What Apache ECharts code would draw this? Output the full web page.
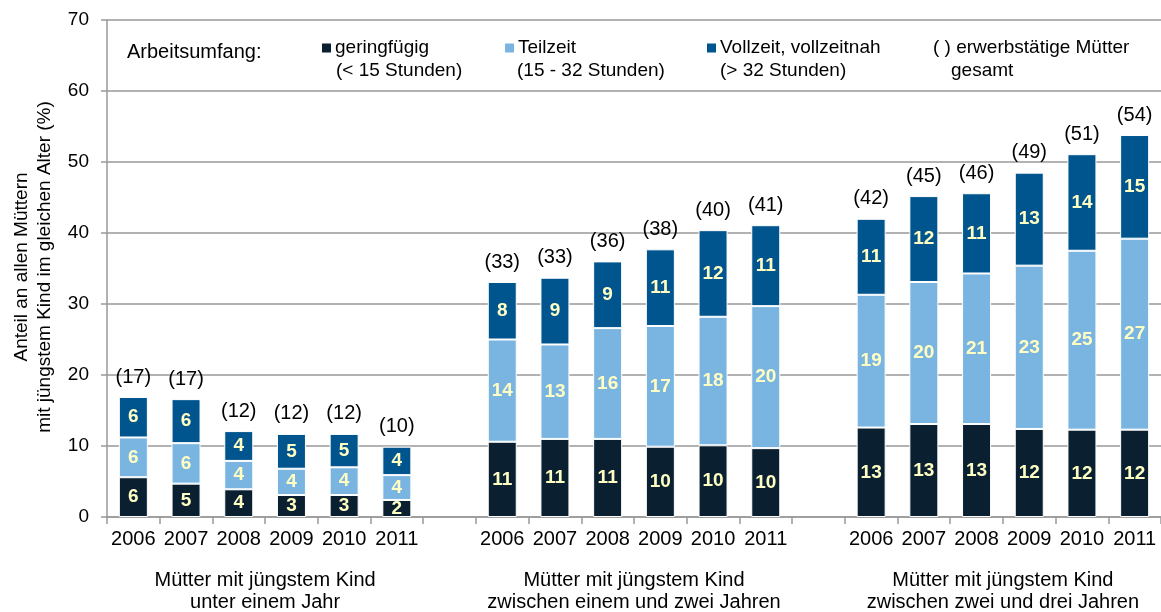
<!DOCTYPE html>
<html lang="de">
<head>
  <meta charset="UTF-8">
  <title>Arbeitsumfang erwerbstätiger Mütter</title>
  <script src="https://cdn.jsdelivr.net/npm/echarts@6.0.0/dist/echarts.min.js"></script>
  <style>
    *{ margin:0; padding:0; }
    body{ width:1161px; height:612px; background:#fff; }
    .container{ width:1161px; height:612px; }
  </style>
</head>
<body>
  <div class="container"></div>

  <script type="text/javascript">
    // Jahre je Gruppe
    var years = ['2006', '2007', '2008', '2009', '2010', '2011']

    // jüngstes Kind unter einem Jahr
    var geringfuegig1 = [5.6, 4.7, 3.9, 3.1, 3.1, 2.4]
    var teilzeit1 = [5.6, 5.7, 4.0, 3.7, 3.9, 3.5]
    var vollzeit1 = [5.7, 6.2, 4.2, 4.9, 4.7, 4.0]
    var gesamt1 = [17, 17, 12, 12, 12, 10]

    // jüngstes Kind zwischen einem und zwei Jahren
    var geringfuegig2 = [10.6, 11.0, 11.0, 9.9, 10.1, 9.7]
    var teilzeit2 = [14.4, 13.3, 15.6, 17.0, 18.1, 20.0]
    var vollzeit2 = [8.1, 9.4, 9.4, 10.8, 12.2, 11.4]
    var gesamt2 = [33, 33, 36, 38, 40, 41]

    // jüngstes Kind zwischen zwei und drei Jahren
    var geringfuegig3 = [12.6, 13.1, 13.1, 12.4, 12.3, 12.3]
    var teilzeit3 = [18.7, 20.0, 21.2, 23.0, 25.2, 26.9]
    var vollzeit3 = [10.7, 12.1, 11.3, 13.1, 13.6, 14.6]
    var gesamt3 = [42, 45, 46, 49, 51, 54]

    var groupNames = [
      'Mütter mit jüngstem Kind\nunter einem Jahr',
      'Mütter mit jüngstem Kind\nzwischen einem und zwei Jahren',
      'Mütter mit jüngstem Kind\nzwischen zwei und drei Jahren'
    ]

    // drei Gruppen mit je einer leeren Kategorie dazwischen
    function join(a, b, c, gap) {
      return a.concat([gap], b, [gap], c)
    }
    function nullen(a) {
      return a.map(function(){ return 0 })
    }
    var categories = join(years, years, years, '')
    var gesamt = join(gesamt1, gesamt2, gesamt3, '-')
    var zeros = join(nullen(years), nullen(years), nullen(years), '-')

    var font = 'Liberation Sans, Arial, sans-serif'
    var colors = ['#0a1f30', '#79b5e0', '#00558f']

    var barLabel = {
      show: true,
      position: 'inside',
      color: '#ffffc4',
      fontFamily: font,
      fontSize: 19,
      fontWeight: 'bold',
      formatter: function(p){ return Math.round(p.value) }
    }

    function barSeries(name, data, color) {
      return {
        name: name,
        type: 'bar',
        stack: 'a',
        barWidth: 29,
        data: data,
        itemStyle: { color: color, borderColor: '#fff', borderWidth: 1 },
        label: barLabel
      }
    }

    const mCharts = echarts.init(document.querySelector('.container'))

    var legendBase = {
      padding: 0,
      itemWidth: 9,
      itemHeight: 9,
      itemGap: 5,
      selectedMode: false,
      icon: 'rect',
      itemStyle: { borderWidth: 0 },
      textStyle: { fontFamily: font, fontSize: 19, color: '#000', lineHeight: 20, padding: [0, 0, 0, -1] }
    }
    function legendAt(name, left) {
      return Object.assign({}, legendBase, { data: [name], left: left, top: 38 })
    }

    function text(t, x, y, size) {
      return {
        type: 'text', x: x, y: y, silent: true,
        style: { text: t, fontFamily: font, fontSize: size || 19, fill: '#000', align: 'left', verticalAlign: 'middle' }
      }
    }

    var option = {
      animation: false,
      color: colors,
      grid: { left: 107, right: 0, top: 20, bottom: 95, containLabel: false, outerBoundsMode: 'none' },
      legend: [
        legendAt('geringfügig', 322),
        legendAt('Teilzeit', 505),
        legendAt('Vollzeit, vollzeitnah', 707)
      ],
      graphic: [
        text('Arbeitsumfang:', 127, 52, 20),
        text('(< 15 Stunden)', 336, 71),
        text('(15 - 32 Stunden)', 517, 71),
        text('(> 32 Stunden)', 720, 71),
        text('( ) erwerbstätige Mütter', 933, 48),
        text('gesamt', 951, 71),
        {
          type: 'text', x: 33, y: 267, rotation: Math.PI / 2, silent: true,
          style: {
            text: 'Anteil an allen Müttern\nmit jüngstem Kind im gleichen Alter (%)',
            fontFamily: font, fontSize: 19, fill: '#000', align: 'center', verticalAlign: 'middle', lineHeight: 23
          }
        }
      ],
      xAxis: [
        {
          type: 'category',
          data: categories,
          axisLine: { lineStyle: { color: '#999', width: 1.5 } },
          axisTick: { show: true, interval: 0, length: 7, lineStyle: { color: '#999', width: 1.5 } },
          axisLabel: { interval: 0, margin: 12, color: '#000', fontFamily: font, fontSize: 20 }
        },
        {
          type: 'value',
          position: 'bottom',
          min: 0,
          max: categories.length,
          interval: 1,
          axisLine: { show: false },
          axisTick: { show: false },
          splitLine: { show: false },
          axisLabel: {
            margin: 52,
            color: '#000',
            fontFamily: font,
            fontSize: 20,
            lineHeight: 22,
            align: 'center',
            formatter: function(v){
              // Gruppenmitte: sechs Balken plus eine Lücke je Gruppe
              for (var g = 0; g < groupNames.length; g++) {
                if (v === g * (years.length + 1) + years.length / 2) return groupNames[g]
              }
              return ''
            }
          }
        }
      ],
      yAxis: {
        type: 'value',
        min: 0,
        max: 70,
        interval: 10,
        axisLine: { show: true, lineStyle: { color: '#999', width: 1.5 } },
        axisTick: { show: true, length: 6, lineStyle: { color: '#999', width: 1.5 } },
        splitLine: { lineStyle: { color: '#999', width: 1.5 } },
        axisLabel: { margin: 18, color: '#000', fontFamily: font, fontSize: 19 }
      },
      series: [
        barSeries('geringfügig', join(geringfuegig1, geringfuegig2, geringfuegig3, '-'), colors[0]),
        barSeries('Teilzeit', join(teilzeit1, teilzeit2, teilzeit3, '-'), colors[1]),
        barSeries('Vollzeit, vollzeitnah', join(vollzeit1, vollzeit2, vollzeit3, '-'), colors[2]),
        {
          name: 'gesamt',
          type: 'bar',
          stack: 'a',
          barWidth: 29,
          data: zeros,
          itemStyle: { color: 'transparent' },
          label: {
            show: true,
            position: 'top',
            distance: 10,
            color: '#000',
            fontFamily: font,
            fontSize: 20,
            formatter: function(p){ return '(' + gesamt[p.dataIndex] + ')' }
          }
        }
      ]
    }
    mCharts.setOption(option)

    window.onresize = mCharts.resize
  </script>
</body>
</html>
